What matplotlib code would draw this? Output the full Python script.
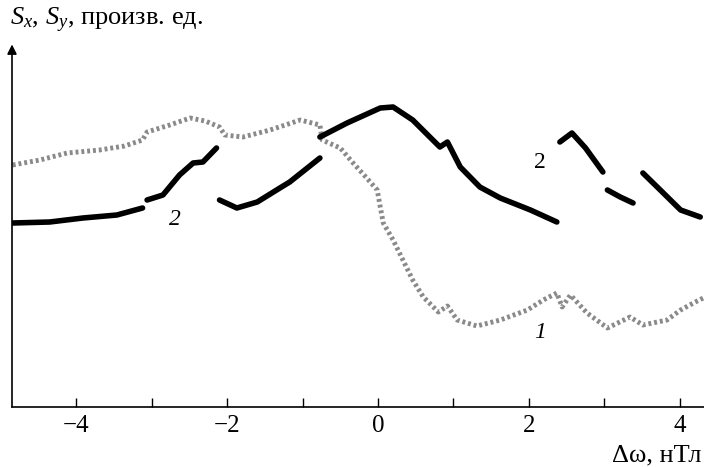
import matplotlib
matplotlib.use("Agg")
import matplotlib.pyplot as plt

plt.rcParams['font.family'] = ['Liberation Serif', 'DejaVu Serif']
plt.rcParams['mathtext.fontset'] = 'custom'
plt.rcParams['mathtext.rm'] = 'Liberation Serif'
plt.rcParams['mathtext.it'] = 'Liberation Serif:italic'

# кривая 1 (Sx)
x1 = [-4.84, -4.48, -4.12, -3.69, -3.36, -3.12, -3.06, -2.76, -2.49, -2.29,
      -2.10, -2.03, -1.79, -1.43, -1.03, -0.77, -0.74, -0.50, -0.33, -0.15,
      -0.01, 0.03, 0.07, 0.20, 0.33, 0.46, 0.60, 0.80, 0.92, 1.05,
      1.31, 1.62, 1.98, 2.19, 2.37, 2.44, 2.55, 2.77, 3.04, 3.34,
      3.51, 3.83, 4.01, 4.18, 4.31]
y1 = [2.42, 2.47, 2.54, 2.57, 2.61, 2.67, 2.75, 2.82, 2.89, 2.86,
      2.80, 2.72, 2.70, 2.77, 2.87, 2.82, 2.67, 2.59, 2.44, 2.29,
      2.17, 2.00, 1.84, 1.67, 1.47, 1.27, 1.10, 0.95, 1.01, 0.87,
      0.81, 0.87, 0.97, 1.07, 1.14, 1.00, 1.12, 0.94, 0.79, 0.90,
      0.82, 0.87, 0.97, 1.04, 1.09]

# кривая 2 (Sy), отдельные участки
x2 = [[-4.84, -4.35, -3.91, -3.46, -3.12],
      [-3.06, -2.85, -2.63, -2.45, -2.32, -2.14],
      [-2.10, -1.87, -1.60, -1.30, -1.17, -0.77],
      [-0.77, -0.41, 0.03, 0.20, 0.46, 0.82, 0.92, 1.09, 1.35, 1.62, 2.02, 2.37],
      [2.41, 2.57, 2.75, 2.98],
      [3.04, 3.21, 3.38],
      [3.51, 3.70, 4.01, 4.27]]
y2 = [[1.84, 1.85, 1.89, 1.92, 1.99],
      [2.07, 2.12, 2.32, 2.44, 2.45, 2.59],
      [2.07, 1.99, 2.05, 2.19, 2.25, 2.49],
      [2.70, 2.84, 2.99, 3.00, 2.87, 2.60, 2.65, 2.40, 2.20, 2.09, 1.97, 1.85],
      [2.65, 2.74, 2.59, 2.35],
      [2.17, 2.10, 2.04],
      [2.34, 2.20, 1.97, 1.90]]

fig = plt.figure(figsize=(7.04, 4.67), dpi=100)
ax = fig.add_axes([12 / 704, 60 / 467, 692 / 704, 352 / 467])

ax.plot(x1, y1, color='#8a8a8a', lw=3.5, linestyle=(0, (0.6, 0.6)))
for xs, ys in zip(x2, y2):
    ax.plot(xs, ys, color='black', lw=4, solid_capstyle='round')

ax.text(-2.69, 1.87, '2', fontsize=17, style='italic', ha='center', va='center')
ax.text(2.15, 2.44, '2', fontsize=17, ha='center', va='center')
ax.text(2.15, 0.74, '1', fontsize=17, style='italic', ha='center', va='center')

ax.set_xlim(-4.85, 4.32)
ax.set_ylim(0, 3.52)
ax.set_xticks([-4, -2, 0, 2, 4])
ax.set_xticks([-3, -1, 1, 3], minor=True)
ax.set_yticks([])
ax.tick_params(axis='x', which='both', direction='in', length=6.5, width=1,
               labelsize=18, pad=6)
for s in ['top', 'right', 'left']:
    ax.spines[s].set_visible(False)
ax.spines['bottom'].set_linewidth(1.2)

ax.annotate('', xy=(0, 1.03), xytext=(0, 0), xycoords='axes fraction',
            arrowprops=dict(arrowstyle='-|>', color='black', lw=1.2,
                            mutation_scale=14, shrinkA=0, shrinkB=0))

fig.text(10 / 704, 1 - 20 / 467, r'$S_x$, $S_y$, произв. ед.', fontsize=19,
         ha='left', va='center')
fig.text(702 / 704, 1 - 455 / 467, 'Δω, нТл', fontsize=19, ha='right', va='center')

fig.savefig('out.png', dpi=100)
